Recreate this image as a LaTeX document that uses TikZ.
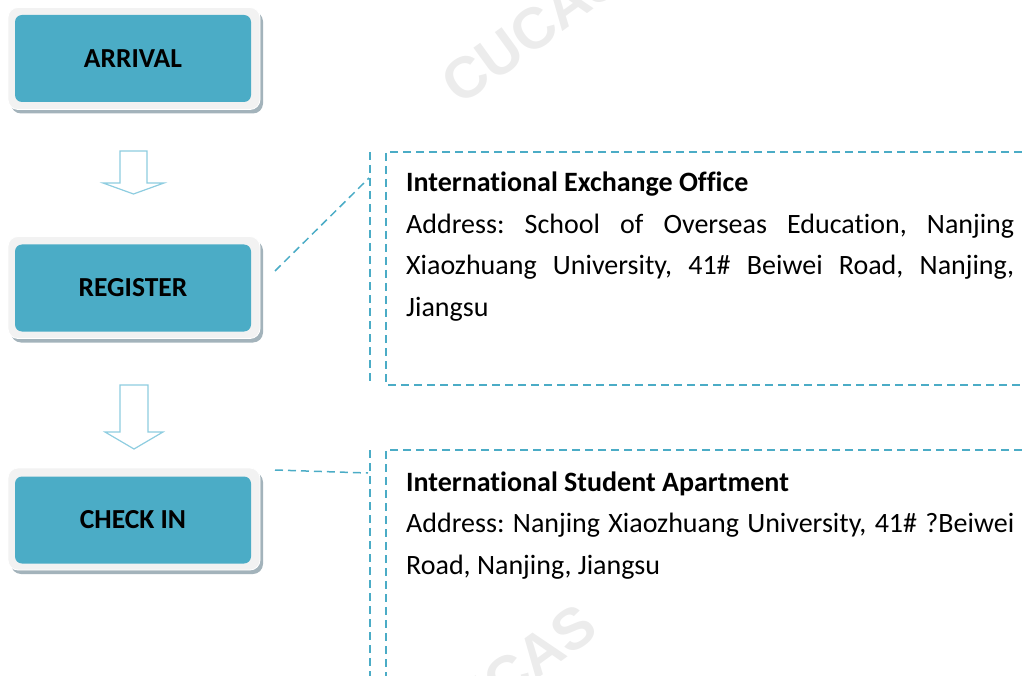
\documentclass[tikz,border=0pt]{standalone}
\usepackage{fontspec}
\setmainfont{Carlito}[Ligatures=NoCommon]
\setsansfont{Liberation Sans}
\usetikzlibrary{shadows}
\definecolor{teal1}{HTML}{4BACC6}
\definecolor{outerg}{HTML}{F2F2F2}
\definecolor{shadowc}{HTML}{A3B3BB}
\definecolor{arrowc}{HTML}{8ECDE0}
\definecolor{wmark}{HTML}{ECECEC}
\tikzset{
  outerbox/.style={fill=outerg, draw=white, line width=0.8pt, rounded corners=10pt,
    minimum width=252pt, minimum height=102pt, inner sep=0pt,
    drop shadow={shadow xshift=3pt, shadow yshift=-4pt, fill=shadowc, opacity=1}},
  stepbox/.style={fill=teal1, rounded corners=7pt, minimum width=236pt, minimum height=87pt,
    inner sep=0pt, font=\fontsize{27.5}{30}\selectfont\bfseries, text=black},
  leader/.style={draw=teal1, line width=1.5pt, dash pattern=on 8pt off 5pt},
  infotext/.style={anchor=base west, text width=608pt, align=justify, inner sep=0pt,
    font=\fontsize{28}{41.5}\selectfont\frenchspacing},
  blockarrow/.style={draw=arrowc, line width=1.2pt, fill=white, line join=miter},
  watermark/.style={text=wmark, font=\sffamily\bfseries\fontsize{58}{58}\selectfont, rotate=36}
}
\begin{document}
\begin{tikzpicture}[x=1pt,y=-1pt]
\useasboundingbox (0,0) rectangle (1022,676);
% watermarks
\node[watermark] (wm1) at (532,30) {CUCAS};
\node[watermark] (wm2) at (506,678) {CUCAS};
% step boxes
\node[outerbox] (arrivalo) at (134,58.5) {};
\node[stepbox] (arrival) at (133,58.5) {ARRIVAL};
\node[outerbox] (registero) at (134,287.5) {};
\node[stepbox] (register) at (133,288) {REGISTER};
\node[outerbox] (checkino) at (134,519) {};
\node[stepbox] (checkin) at (133,520) {CHECK IN};
% block arrows
\draw[blockarrow] (120,151) -- (147,151) -- (147,183) -- (164,183) -- (133.5,194)
  -- (103,183) -- (120,183) -- cycle;
\draw[blockarrow] (120,385) -- (148,385) -- (148,432) -- (163,432) -- (134,449)
  -- (105,432) -- (120,432) -- cycle;
% callout 1
\coordinate (l1a) at (275,271);
\coordinate (l1b) at (369,178);
\coordinate (v1t) at (370,152);
\coordinate (v1b) at (370,385);
\path[leader] (l1a) -- (l1b);
\path[leader] (v1t) -- (v1b);
\coordinate (b1tl) at (386,152);
\coordinate (b1tr) at (1022,152);
\coordinate (b1bl) at (386,385);
\coordinate (b1br) at (1022,385);
\path[leader] (b1tr) -- (b1tl) -- (b1bl) -- (b1br);
\node[infotext] (ieo) at (406,192) {\textbf{International Exchange Office}\par
Address: School of Overseas Education, Nanjing\linebreak
Xiaozhuang University, 41\# Beiwei Road, Nanjing,\linebreak
Jiangsu};
% callout 2
\coordinate (l2a) at (275,470);
\coordinate (l2b) at (368,473);
\coordinate (v2t) at (370,450);
\coordinate (v2b) at (370,676);
\path[leader] (l2a) -- (l2b);
\path[leader] (v2t) -- (v2b);
\coordinate (b2tr) at (1022,450);
\coordinate (b2tl) at (386,450);
\coordinate (b2bl) at (386,676);
\path[leader] (b2tr) -- (b2tl) -- (b2bl);
\node[infotext] (isa) at (406,491) {\textbf{International Student Apartment}\par
Address: Nanjing Xiaozhuang University, 41\# ?Beiwei\linebreak
Road, Nanjing, Jiangsu};
\end{tikzpicture}
\end{document}
